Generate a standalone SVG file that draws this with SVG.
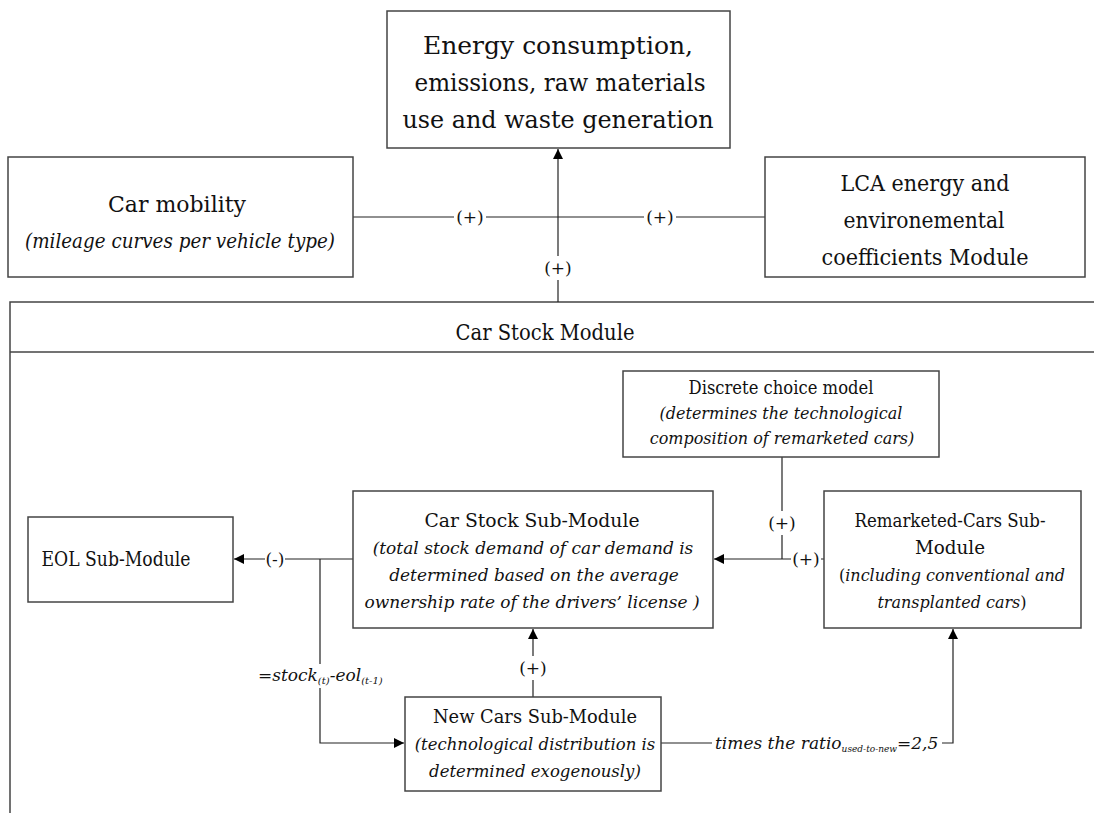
<svg xmlns="http://www.w3.org/2000/svg" width="1094" height="813" viewBox="0 0 1094 813" font-family="DejaVu Serif, Noto Serif, serif">
<defs>
<style>
.box{fill:#fff;stroke:#444;stroke-width:1.5}
.frame{fill:none;stroke:#444;stroke-width:1.5}
.ln{fill:none;stroke:#222;stroke-width:1.2}
.t{fill:#111;text-anchor:middle}
.i{font-style:italic}
.lbl{fill:#111;font-size:17px;text-anchor:middle}
</style>
<marker id="ah" viewBox="0 0 10 10" refX="10" refY="5" markerWidth="10" markerHeight="10" markerUnits="userSpaceOnUse" orient="auto">
<path d="M0,0 L10,5 L0,10 z" fill="#000"/>
</marker>
</defs>
<rect width="1094" height="813" fill="#fff"/>

<g id="car-stock-module">
<polyline class="frame" points="1100,302 10,302 10,813"/>
<line class="frame" x1="10" y1="352" x2="1100" y2="352"/>
<text class="t" x="545" y="340" font-size="22" textLength="179" lengthAdjust="spacingAndGlyphs">Car Stock Module</text>
</g>

<g id="connectors">
<line class="ln" x1="353" y1="217" x2="765" y2="217"/>
<line class="ln" x1="558" y1="302" x2="558" y2="149" marker-end="url(#ah)"/>
<line class="ln" x1="353" y1="559" x2="234" y2="559" marker-end="url(#ah)"/>
<polyline class="ln" points="320,559 320,743 404,743" marker-end="url(#ah)"/>
<line class="ln" x1="824" y1="559" x2="714" y2="559" marker-end="url(#ah)"/>
<line class="ln" x1="782" y1="457" x2="782" y2="559"/>
<line class="ln" x1="533" y1="697" x2="533" y2="629" marker-end="url(#ah)"/>
<polyline class="ln" points="661,743 953,743 953,629" marker-end="url(#ah)"/>
</g>

<g id="labels">
<rect x="454" y="205" width="32" height="24" fill="#fff"/>
<text class="lbl" x="470" y="223">(+)</text>
<rect x="644" y="205" width="32" height="24" fill="#fff"/>
<text class="lbl" x="660" y="223">(+)</text>
<rect x="543" y="256" width="30" height="24" fill="#fff"/>
<text class="lbl" x="558" y="274">(+)</text>
<rect x="265" y="548" width="20" height="24" fill="#fff"/>
<text class="lbl" x="275" y="565">(-)</text>
<rect x="768" y="511" width="28" height="24" fill="#fff"/>
<text class="lbl" x="782" y="529">(+)</text>
<rect x="791" y="548" width="30" height="24" fill="#fff"/>
<text class="lbl" x="806" y="565">(+)</text>
<rect x="519" y="656" width="28" height="24" fill="#fff"/>
<text class="lbl" x="533" y="674">(+)</text>
<rect x="254" y="664" width="132" height="24" fill="#fff"/>
<text class="lbl i" x="258" y="681" font-size="16" style="text-anchor:start">=stock<tspan font-size="10" dy="3">(t)</tspan><tspan dy="-3">-eol</tspan><tspan font-size="10" dy="3">(t-1)</tspan></text>
<rect x="712" y="731" width="230" height="24" fill="#fff"/>
<text class="lbl i" x="715" y="749" font-size="15.5" style="text-anchor:start">times the ratio<tspan font-size="9" dy="3">used-to-new</tspan><tspan dy="-3">=2,5</tspan></text>
</g>

<g id="output-box">
<rect class="box" x="387" y="11" width="343" height="137"/>
<text class="t" x="558" y="54" font-size="24" textLength="270" lengthAdjust="spacingAndGlyphs">Energy consumption,</text>
<text class="t" x="560" y="91" font-size="24" textLength="291" lengthAdjust="spacingAndGlyphs">emissions, raw materials</text>
<text class="t" x="558" y="128" font-size="24" textLength="311" lengthAdjust="spacingAndGlyphs">use and waste generation</text>
</g>

<g id="car-mobility">
<rect class="box" x="8" y="157" width="345" height="120"/>
<text class="t" x="177" y="212" font-size="23" textLength="138" lengthAdjust="spacingAndGlyphs">Car mobility</text>
<text class="t i" x="180" y="248" font-size="20" textLength="310" lengthAdjust="spacingAndGlyphs">(mileage curves per vehicle type)</text>
</g>

<g id="lca-module">
<rect class="box" x="765" y="157" width="320" height="120"/>
<text class="t" x="925" y="191" font-size="23" textLength="169" lengthAdjust="spacingAndGlyphs">LCA energy and</text>
<text class="t" x="924" y="228" font-size="23" textLength="161" lengthAdjust="spacingAndGlyphs">environemental</text>
<text class="t" x="925" y="265" font-size="23" textLength="207" lengthAdjust="spacingAndGlyphs">coefficients Module</text>
</g>

<g id="discrete-choice">
<rect class="box" x="623" y="371" width="316" height="86"/>
<text class="t" x="781" y="394" font-size="18" textLength="185" lengthAdjust="spacingAndGlyphs">Discrete choice model</text>
<text class="t i" x="781" y="419" font-size="16">(determines the technological</text>
<text class="t i" x="782" y="444" font-size="16">composition of remarketed cars)</text>
</g>

<g id="eol">
<rect class="box" x="28" y="517" width="205" height="85"/>
<text class="t" x="116" y="566" font-size="20" textLength="149" lengthAdjust="spacingAndGlyphs">EOL Sub-Module</text>
</g>

<g id="car-stock-sub">
<rect class="box" x="353" y="491" width="360" height="137"/>
<text class="t" x="532" y="527" font-size="19" textLength="215" lengthAdjust="spacingAndGlyphs">Car Stock Sub-Module</text>
<text class="t i" x="533" y="554" font-size="17">(total stock demand of car demand is</text>
<text class="t i" x="534" y="581" font-size="17">determined based on the average</text>
<text class="t i" x="532" y="608" font-size="17">ownership rate of the drivers’ license )</text>
</g>

<g id="remarketed">
<rect class="box" x="824" y="491" width="257" height="137"/>
<text class="t" x="950" y="527" font-size="19" textLength="191" lengthAdjust="spacingAndGlyphs">Remarketed-Cars Sub-</text>
<text class="t" x="950" y="554" font-size="19" textLength="70" lengthAdjust="spacingAndGlyphs">Module</text>
<text class="t i" x="952" y="581" font-size="16"><tspan font-style="normal">(</tspan>including conventional and</text>
<text class="t i" x="952" y="608" font-size="16">transplanted cars<tspan font-style="normal">)</tspan></text>
</g>

<g id="new-cars">
<rect class="box" x="405" y="697" width="256" height="94"/>
<text class="t" x="535" y="723" font-size="19" textLength="204" lengthAdjust="spacingAndGlyphs">New Cars Sub-Module</text>
<text class="t i" x="535" y="750" font-size="16.5">(technological distribution is</text>
<text class="t i" x="535" y="777" font-size="16.5">determined exogenously)</text>
</g>
</svg>
